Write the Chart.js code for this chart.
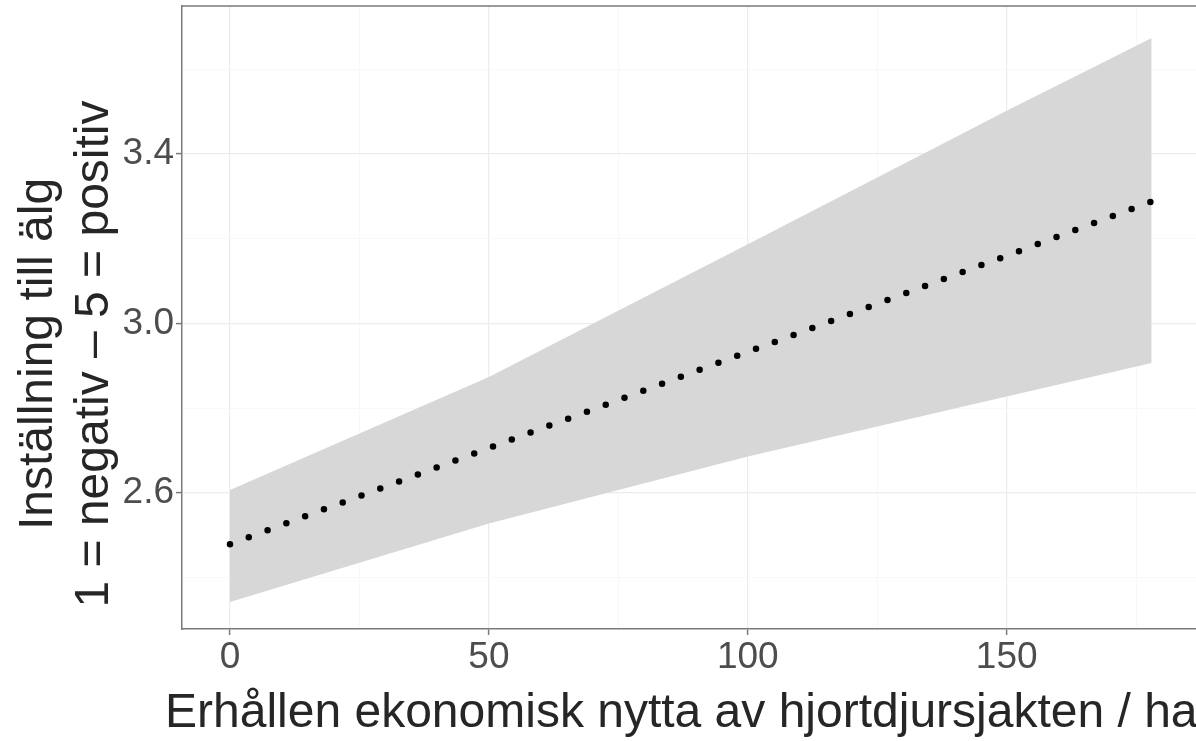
<!DOCTYPE html>
<html>
<head>
<meta charset="utf-8">
<script src="https://cdn.jsdelivr.net/npm/chart.js@4"></script>
<style>
    html, body { margin: 0; padding: 0; background: #ffffff; overflow: hidden; }
    canvas { display: block; }
</style>
</head>
<body>
<canvas id="effect-chart" width="1196" height="741"></canvas>
<script>
// Values
const xBreaks = [0, 50, 100, 150, 178];
const fitValues = [2.479, 2.706, 2.933, 3.16, 3.288];
const upperValues = [2.607, 2.874, 3.187, 3.502, 3.674];
const lowerValues = [2.343, 2.528, 2.686, 2.828, 2.907];

const xTickLabels = [0, 50, 100, 150];
const yTickLabels = [2.6, 3.0, 3.4];

const xTitle = "Erhållen ekonomisk nytta av hjortdjursjakten / ha";
const yTitle = ["Inställning till älg", "1 = negativ – 5 = positiv"];

(function () {
    "use strict";

    const frameColor = "#7a7a7a";
    const tickFont = {
        family: '"Liberation Sans Narrow", "Arial Narrow", "Liberation Sans", Arial, sans-serif',
        size: 37,
    };

    const toPoints = (values) =>
        xBreaks.map((x, i) => ({ x: x, y: values[i] }));

    const isMajorX = (v) => xTickLabels.includes(Math.round(v));
    const isMajorY = (v) =>
        yTickLabels.some((t) => Math.abs(t - v) < 1e-6);

    // Panel top line and the two axis titles
    const framePlugin = {
        id: "framePlugin",
        afterDraw(chart) {
            const { ctx, chartArea } = chart;
            ctx.save();
            ctx.strokeStyle = frameColor;
            ctx.lineWidth = 1.5;
            ctx.beginPath();
            ctx.moveTo(chartArea.left, chartArea.top);
            ctx.lineTo(chartArea.right, chartArea.top);
            ctx.stroke();

            ctx.fillStyle = "#262626";
            ctx.font = '48px "Liberation Sans", Arial, sans-serif';
            ctx.textBaseline = "alphabetic";
            ctx.textAlign = "left";
            ctx.fillText(xTitle, 165, 727);

            ctx.textAlign = "center";
            [52, 108].forEach((bx, i) => {
                ctx.save();
                ctx.translate(bx, 354);
                ctx.rotate(-Math.PI / 2);
                ctx.fillText(yTitle[i], 0, 0);
                ctx.restore();
            });
            ctx.restore();
        },
    };

    const ctx = document.getElementById("effect-chart").getContext("2d");
    new Chart(ctx, {
        type: "line",
        data: {
            datasets: [
                {
                    label: "fit",
                    data: toPoints(fitValues),
                    borderColor: "#000000",
                    borderWidth: 6.5,
                    borderDash: [0, 20.04],
                    borderCapStyle: "round",
                    pointRadius: 0,
                    fill: false,
                    tension: 0,
                },
                {
                    label: "upper",
                    data: toPoints(upperValues),
                    borderWidth: 0,
                    borderColor: "transparent",
                    backgroundColor: "#d7d7d7",
                    pointRadius: 0,
                    fill: "+1",
                    tension: 0,
                },
                {
                    label: "lower",
                    data: toPoints(lowerValues),
                    borderWidth: 0,
                    borderColor: "transparent",
                    pointRadius: 0,
                    fill: false,
                    tension: 0,
                },
            ],
        },
        options: {
            responsive: false,
            animation: false,
            layout: {
                autoPadding: false,
                padding: { top: 6, right: 0, bottom: 0, left: 0 },
            },
            plugins: {
                legend: { display: false },
                tooltip: { enabled: false },
            },
            scales: {
                x: {
                    type: "linear",
                    min: -9.27,
                    max: 186.56,
                    afterFit: (scale) => {
                        scale.height = 112;
                        scale.paddingLeft = 0;
                        scale.paddingRight = 0;
                    },
                    ticks: {
                        stepSize: 25,
                        includeBounds: false,
                        autoSkip: false,
                        maxRotation: 0,
                        padding: 1,
                        font: tickFont,
                        color: "#4d4d4d",
                        callback: (value) => (isMajorX(value) ? String(value) : ""),
                    },
                    grid: {
                        color: (c) => (isMajorX(c.tick.value) ? "#ececec" : "#f6f6f6"),
                        lineWidth: (c) => (isMajorX(c.tick.value) ? 1.2 : 0.8),
                        tickColor: (c) => (isMajorX(c.tick.value) ? frameColor : "transparent"),
                        tickLength: 6,
                        tickWidth: 1.5,
                    },
                    border: { color: frameColor, width: 1.5 },
                },
                y: {
                    type: "linear",
                    min: 2.279,
                    max: 3.7494,
                    afterFit: (scale) => {
                        scale.width = 182;
                        scale.paddingTop = 0;
                        scale.paddingBottom = 0;
                    },
                    ticks: {
                        stepSize: 0.2,
                        includeBounds: false,
                        autoSkip: false,
                        padding: 2,
                        font: tickFont,
                        color: "#4d4d4d",
                        callback: (value) => (isMajorY(value) ? value.toFixed(1) : ""),
                    },
                    grid: {
                        color: (c) => (isMajorY(c.tick.value) ? "#ececec" : "#f6f6f6"),
                        lineWidth: (c) => (isMajorY(c.tick.value) ? 1.2 : 0.8),
                        tickColor: (c) => (isMajorY(c.tick.value) ? frameColor : "transparent"),
                        tickLength: 6,
                        tickWidth: 1.5,
                    },
                    border: { color: frameColor, width: 1.5 },
                },
            },
        },
        plugins: [framePlugin],
    });
})();
</script>
</body>
</html>
